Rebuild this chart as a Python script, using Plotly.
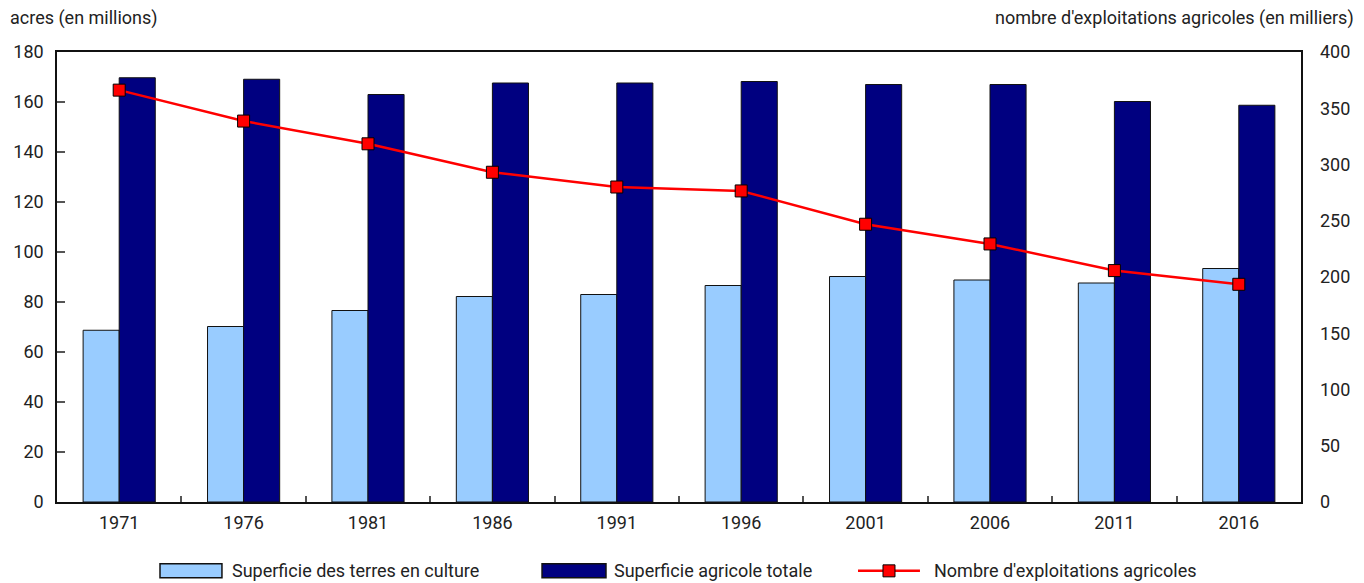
import plotly.graph_objects as go

# Recensement de l'agriculture, 1971 a 2016
years = ["1971", "1976", "1981", "1986", "1991", "1996", "2001", "2006", "2011", "2016"]
cultivated_acres = [68.7, 70.2, 76.6, 82.2, 83.0, 86.6, 90.2, 88.8, 87.6, 93.4]
total_farm_acres = [169.7, 169.1, 163.0, 167.6, 167.6, 168.2, 167.0, 167.0, 160.2, 158.7]
number_of_farms = [366.1, 338.6, 318.4, 293.1, 280.0, 276.5, 246.9, 229.4, 205.7, 193.5]

series_names = [
    "Superficie des terres en culture",
    "Superficie agricole totale",
    "Nombre d'exploitations agricoles",
]
LIGHT = "#99CCFF"
DARK = "#000080"
RED = "#FF0000"
EDGE = "#111111"
TICK = "#555555"
FONT = "Liberation Sans Narrow, Arial Narrow, Roboto, sans-serif"

fig = go.Figure()
fig.add_trace(
    go.Bar(
        x=years,
        y=cultivated_acres,
        name=series_names[0],
        marker=dict(color=LIGHT, line=dict(color=EDGE, width=1)),
    )
)
fig.add_trace(
    go.Bar(
        x=years,
        y=total_farm_acres,
        name=series_names[1],
        marker=dict(color=DARK, line=dict(color=EDGE, width=1)),
    )
)
fig.add_trace(
    go.Scatter(
        x=years,
        y=number_of_farms,
        name=series_names[2],
        yaxis="y2",
        mode="lines+markers",
        line=dict(color=RED, width=2.5),
        marker=dict(symbol="square", size=12, color=RED, line=dict(color="#000000", width=1)),
    )
)

# legend drawn by hand so the keys are wide boxes like the original
LEG_Y = -0.153
shapes = [
    dict(type="rect", xref="paper", yref="paper", x0=0.0828, x1=0.1326,
         ysizemode="pixel", yanchor=LEG_Y, y0=-7, y1=7,
         fillcolor=LIGHT, line=dict(color=EDGE, width=1.5)),
    dict(type="rect", xref="paper", yref="paper", x0=0.3899, x1=0.4413,
         ysizemode="pixel", yanchor=LEG_Y, y0=-7, y1=7,
         fillcolor=DARK, line=dict(color=EDGE, width=1.5)),
    dict(type="line", xref="paper", yref="paper", x0=0.6439, x1=0.6937,
         y0=LEG_Y, y1=LEG_Y, line=dict(color=RED, width=2.5)),
    dict(type="rect", xref="paper", yref="paper",
         xsizemode="pixel", xanchor=0.6688, x0=-6, x1=6,
         ysizemode="pixel", yanchor=LEG_Y, y0=-6, y1=6,
         fillcolor=RED, line=dict(color="#000000", width=1)),
]
legend_text = [
    dict(text=series_names[0], x=0.1391),
    dict(text=series_names[1], x=0.4461),
    dict(text=series_names[2], x=0.7034),
]

annotations = [
    dict(
        text="acres (en millions)",
        xref="paper", yref="paper",
        x=-0.0394, y=1.0756,
        xanchor="left", yanchor="middle",
        showarrow=False,
    ),
    dict(
        text="nombre d'exploitations agricoles (en milliers)",
        xref="paper", yref="paper",
        x=1.0442, y=1.0756,
        xanchor="right", yanchor="middle",
        showarrow=False,
    ),
]
for item in legend_text:
    annotations.append(
        dict(
            text=item["text"],
            xref="paper", yref="paper",
            x=item["x"], y=LEG_Y,
            xanchor="left", yanchor="middle",
            showarrow=False,
        )
    )

fig.update_layout(
    width=1364,
    height=583,
    margin=dict(l=57, r=63, t=52, b=81),
    paper_bgcolor="white",
    plot_bgcolor="white",
    font=dict(family=FONT, size=18, color="#222222"),
    barmode="group",
    bargap=0.42,
    bargroupgap=0,
    showlegend=False,
    xaxis=dict(
        type="category",
        range=[-0.5, len(years) - 0.5],
        automargin=False,
        showline=True,
        linecolor="#111111",
        linewidth=1.5,
        mirror=True,
        ticks="inside",
        tickson="boundaries",
        ticklen=6,
        tickcolor=TICK,
        tickwidth=1.5,
        showgrid=False,
        ticklabelstandoff=4,
        tickfont=dict(size=18),
    ),
    yaxis=dict(
        range=[0, 180],
        dtick=20,
        automargin=False,
        showline=True,
        linecolor="#111111",
        linewidth=1.5,
        mirror=True,
        ticks="inside",
        ticklen=8,
        tickcolor=TICK,
        tickwidth=1.5,
        showgrid=False,
        zeroline=False,
        ticklabelstandoff=8,
        tickfont=dict(size=18),
    ),
    yaxis2=dict(
        range=[0, 400],
        dtick=50,
        automargin=False,
        overlaying="y",
        side="right",
        showline=False,
        showgrid=False,
        zeroline=False,
        ticks="",
        ticklabelstandoff=18,
        tickfont=dict(size=18),
    ),
    shapes=shapes,
    annotations=annotations,
)

# the page's default body margin would shift the figure by 8px
fig.write_html(
    "out.html",
    config={"displayModeBar": False},
    post_script="document.body.style.margin = '0';",
)
